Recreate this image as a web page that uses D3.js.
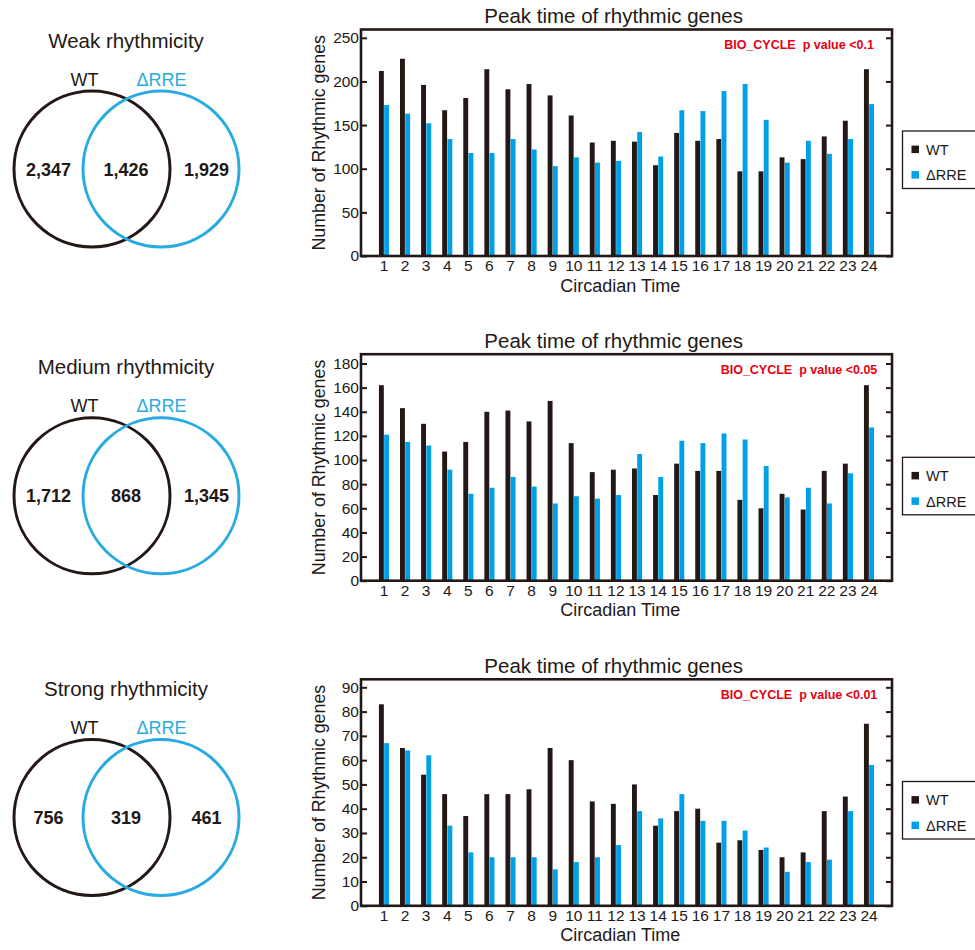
<!DOCTYPE html>
<html>
<head>
<meta charset="utf-8">
<script src="https://cdn.jsdelivr.net/npm/d3@7"></script>
<style>
  html, body { margin: 0; padding: 0; background: #fff; }
  svg { display: block; font-family: "Liberation Sans", Arial, Helvetica, sans-serif; }
</style>
</head>
<body>
<svg id="chart" width="975" height="950"></svg>
<script>
// ---------------- data ----------------
const circadianTimes = [1,2,3,4,5,6,7,8,9,10,11,12,13,14,15,16,17,18,19,20,21,22,23,24];
const seriesNames = ["WT", "\u0394RRE"];

const wtWeak    = [212,226,196,167,181,214,191,197,184,161,130,132,131,104,141,132,134,97,97,113,111,137,155,214];
const rreWeak   = [173,163,152,134,118,118,134,122,103,113,107,109,142,114,167,166,189,197,156,107,132,117,134,174];
const wtMedium  = [162,143,130,107,115,140,141,132,149,114,90,92,93,71,97,91,91,67,60,72,59,91,97,162];
const rreMedium = [121,115,112,92,72,77,86,78,64,70,68,71,105,86,116,114,122,117,95,69,77,64,89,127];
const wtStrong  = [83,65,54,46,37,46,46,48,65,60,43,42,50,33,39,40,26,27,23,20,22,39,45,75];
const rreStrong = [67,64,62,33,22,20,20,20,15,18,20,25,39,36,46,35,35,31,24,14,18,19,39,58];

const vennWeak   = [2347, 1426, 1929];
const vennMedium = [1712, 868, 1345];
const vennStrong = [756, 319, 461];

const vennTitles = ["Weak rhythmicity", "Medium rhythmicity", "Strong rhythmicity"];
const pLabels = ["BIO_CYCLE  p value <0.1", "BIO_CYCLE  p value <0.05", "BIO_CYCLE  p value <0.01"];
const yTicksWeak   = [0,50,100,150,200,250];
const yTicksMedium = [0,20,40,60,80,100,120,140,160,180];
const yTicksStrong = [0,10,20,30,40,50,60,70,80,90];
const yMaxes = [259.5, 187.7, 93.3];
const chartTitle = "Peak time of rhythmic genes";
const xTitle = "Circadian Time";
const yTitle = "Number of Rhythmic genes";

// ---------------- style ----------------
const DARK = "#231815";
const BLUE = "#00a0e9";
const VBLUE = "#29abe2";

const panels = [
  { wt: wtWeak,   rre: rreWeak,   venn: vennWeak,   ticks: yTicksWeak,   yMax: yMaxes[0], title: vennTitles[0], p: pLabels[0], off: 0,     vcy: 169,   legTop: 131 },
  { wt: wtMedium, rre: rreMedium, venn: vennMedium, ticks: yTicksMedium, yMax: yMaxes[1], title: vennTitles[1], p: pLabels[1], off: 324.7, vcy: 495.8, legTop: 457.3 },
  { wt: wtStrong, rre: rreStrong, venn: vennStrong, ticks: yTicksStrong, yMax: yMaxes[2], title: vennTitles[2], p: pLabels[2], off: 649.8, vcy: 817.5, legTop: 781.5 }
];

const svg = d3.select("#chart");
const fmt = d3.format(",");

const X0 = 361, X1 = 892;
const x = d3.scaleBand().domain(circadianTimes).range([X0, X1]).paddingInner(0.52).paddingOuter(0.85);
const xs = d3.scaleBand().domain(seriesNames).range([0, x.bandwidth()]).paddingInner(0.06);

panels.forEach((P, i) => {
  const g = svg.append("g");
  const top = 29.5 + P.off, bottom = 256 + P.off;
  const y = d3.scaleLinear().domain([0, P.yMax]).range([bottom, top]);

  // ---- Venn ----
  const vcx = [92, 161];
  const r = 78;
  g.append("circle").attr("cx", vcx[0]).attr("cy", P.vcy).attr("r", r)
    .attr("fill", "none").attr("stroke", DARK).attr("stroke-width", 3);
  g.append("circle").attr("cx", vcx[1]).attr("cy", P.vcy).attr("r", r)
    .attr("fill", "none").attr("stroke", VBLUE).attr("stroke-width", 3);
  g.append("text").attr("x", 126).attr("y", P.vcy - 121.5).attr("text-anchor", "middle")
    .attr("font-size", 20.5).attr("fill", DARK).text(P.title);
  g.append("text").attr("x", 84.5).attr("y", P.vcy - 83.5).attr("text-anchor", "middle")
    .attr("font-size", 18).attr("fill", DARK).text(seriesNames[0]);
  g.append("text").attr("x", 161.5).attr("y", P.vcy - 83.5).attr("text-anchor", "middle")
    .attr("font-size", 18).attr("fill", VBLUE).text(seriesNames[1]);
  const nx = [48.5, 126, 206.5];
  P.venn.forEach((v, k) => {
    g.append("text").attr("x", nx[k]).attr("y", P.vcy + 6.5).attr("text-anchor", "middle")
      .attr("font-size", 18).attr("font-weight", "bold").attr("fill", DARK).text(fmt(v));
  });

  // ---- bars ----
  const bars = g.append("g");
  circadianTimes.forEach((c, k) => {
    const vals = [P.wt[k], P.rre[k]];
    vals.forEach((v, s) => {
      bars.append("rect")
        .attr("x", x(c) + xs(seriesNames[s]))
        .attr("y", y(v))
        .attr("width", xs.bandwidth())
        .attr("height", y(0) - y(v))
        .attr("fill", s === 0 ? DARK : BLUE);
    });
  });

  // ---- axes ----
  const yl = g.append("g").attr("transform", `translate(${X0},0)`)
    .call(d3.axisRight(y).tickValues(P.ticks).tickSize(6).tickFormat(""));
  yl.select(".domain").remove();
  yl.selectAll("line").attr("stroke", DARK).attr("stroke-width", 2);
  const yr = g.append("g").attr("transform", `translate(${X1},0)`)
    .call(d3.axisLeft(y).tickValues(P.ticks).tickSize(6).tickFormat(""));
  yr.select(".domain").remove();
  yr.selectAll("line").attr("stroke", DARK).attr("stroke-width", 2);

  const ylab = g.append("g").attr("transform", `translate(${X0 - 2},0)`)
    .call(d3.axisLeft(y).tickValues(P.ticks).tickSize(0).tickPadding(0));
  ylab.select(".domain").remove();
  ylab.selectAll("text").attr("font-size", 15.5).attr("fill", DARK)
    .attr("font-family", "Liberation Sans, Arial, sans-serif");

  const xlab = g.append("g").attr("transform", `translate(0,${bottom})`)
    .call(d3.axisBottom(x).tickSize(0).tickPadding(4));
  xlab.select(".domain").remove();
  xlab.selectAll("text").attr("font-size", 15.5).attr("fill", DARK)
    .attr("font-family", "Liberation Sans, Arial, sans-serif");

  // frame
  g.append("rect").attr("x", X0).attr("y", top).attr("width", X1 - X0).attr("height", bottom - top)
    .attr("fill", "none").attr("stroke", DARK).attr("stroke-width", 2.6);

  // titles
  g.append("text").attr("x", 613.7).attr("y", top - 6.2).attr("text-anchor", "middle")
    .attr("font-size", 20.5).attr("fill", DARK).text(chartTitle);
  g.append("text").attr("x", 620.3).attr("y", bottom + 35.5).attr("text-anchor", "middle")
    .attr("font-size", 18).attr("fill", DARK).text(xTitle);
  g.append("text").attr("transform", `translate(325,${(top + bottom) / 2}) rotate(-90)`)
    .attr("text-anchor", "middle").attr("font-size", 17.8).attr("fill", DARK).text(yTitle);
  g.append("text").attr("x", 799).attr("y", top + 19.5).attr("text-anchor", "middle")
    .attr("xml:space", "preserve").style("white-space", "pre")
    .attr("font-size", 12.5).attr("font-weight", "bold").attr("fill", "#e60012").text(P.p);

  // legend
  const L = P.legTop;
  g.append("rect").attr("x", 902.5).attr("y", L).attr("width", 90).attr("height", 57.5)
    .attr("fill", "none").attr("stroke", DARK).attr("stroke-width", 1.3);
  seriesNames.forEach((n, s) => {
    const ty = L + 23.8 + s * 25.5;
    g.append("rect").attr("x", 911.5).attr("y", ty - 9.2).attr("width", 7.5).attr("height", 7.5)
      .attr("fill", s === 0 ? DARK : BLUE);
    g.append("text").attr("x", 926).attr("y", ty).attr("font-size", 14.5)
      .attr("fill", DARK).text(n);
  });
});
</script>
</body>
</html>
